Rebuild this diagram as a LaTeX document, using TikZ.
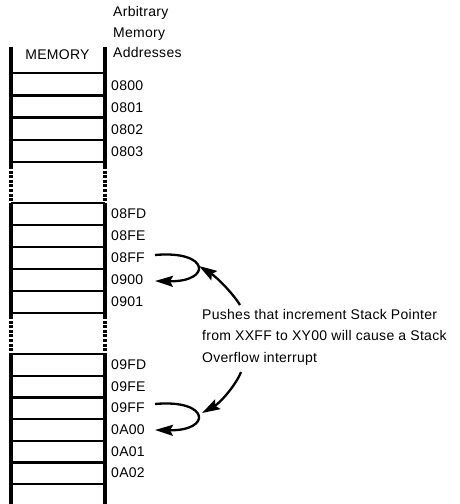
\documentclass[tikz,border=0pt]{standalone}
\usepackage{fontspec}
\setmainfont{Liberation Sans}[LetterSpace=2]
\usetikzlibrary{arrows.meta}
\begin{document}
\begin{tikzpicture}[x=1pt,y=-1pt,
  rail/.style={line width=3.3pt},
  dashrail/.style={line width=3.3pt, dash pattern=on 3pt off 1.6pt},
  cell/.style={line width=2.3pt},
  lbl/.style={inner sep=0pt, font=\fontsize{14}{16}\selectfont},
  addr/.style={lbl, anchor=west},
  ptr/.style={line width=2.3pt, -{Stealth[length=18pt,width=11pt,inset=3pt]}},
]
\useasboundingbox (0,0) rectangle (460,504);
% rails
\foreach \x in {11,105} {
  \draw[rail] (\x,47) -- (\x,166);
  \draw[dashrail] (\x,166) -- (\x,203);
  \draw[rail] (\x,203) -- (\x,316);
  \draw[dashrail] (\x,316) -- (\x,353);
  \draw[rail] (\x,353) -- (\x,504);
}
% cell separators
\foreach \y in {73,95.5,117.5,140,162,203,225,247,269,291,313,354,375.7,397.4,419.1,440.8,462.5,484.2}
  \draw[cell] (11,\y) -- (105,\y);
% titles
\node[lbl] (mem) at (57.5,55) {MEMORY};
\node[lbl, anchor=north west, align=left, font=\fontsize{14}{20.5}\selectfont] (hdr) at (113,6.5) {Arbitrary\\Memory\\Addresses};
% addresses
\foreach \y/\t in {86/0800,108/0801,130/0802,152/0803,214/08FD,236/08FE,258/08FF,280/0900,302/0901,365/09FD,386.5/09FE,408/09FF,430/0A00,451.6/0A01,473/0A02}
  \node[addr] (a\t) at (111,\y) {\t};
% note
\node[lbl, anchor=north west, align=left, font=\fontsize{14}{21.5}\selectfont] (note) at (202,309)
  {Pushes that increment Stack Pointer\\from XXFF to XY00 will cause a Stack\\Overflow interrupt};
% arrows
\coordinate (s1) at (155,255);
\coordinate (e1) at (155,281);
\coordinate (t1) at (240,305);
\coordinate (h1) at (199,266);
\coordinate (s2) at (155,404);
\coordinate (e2) at (155,430);
\coordinate (t2) at (241,372);
\coordinate (h2) at (202,413);
\draw[ptr] (s1) .. controls (210,250) and (212,282) .. (e1);
\draw[ptr] (t1) .. controls (234,295) and (218,278) .. (h1);
\draw[ptr] (s2) .. controls (210,399) and (212,431) .. (e2);
\draw[ptr] (t2) .. controls (236,385) and (220,403) .. (h2);
\end{tikzpicture}
\end{document}
